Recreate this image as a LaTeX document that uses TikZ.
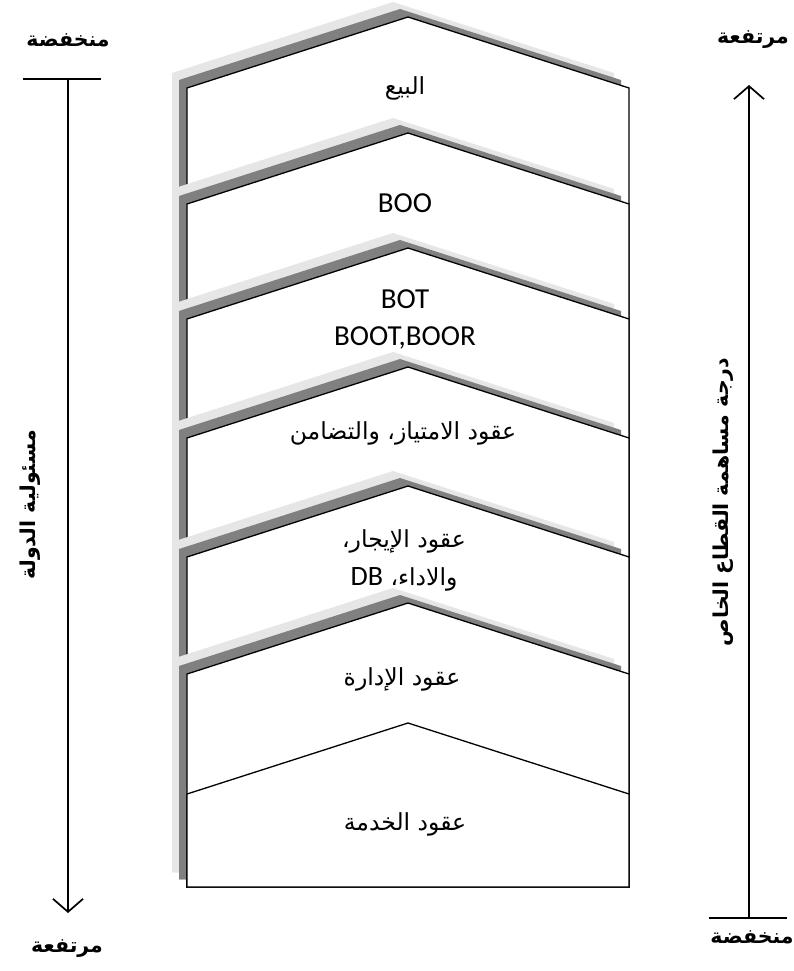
\documentclass[tikz,border=0pt]{standalone}
\usepackage{fontspec}
\setmainfont{Carlito}
\newfontfamily\arabicfont[Script=Arabic]{DejaVu Sans}
\TeXXeTstate=1
\usetikzlibrary{arrows.meta}

\definecolor{shadowdark}{HTML}{808080}
\definecolor{shadowlight}{HTML}{E6E6E6}

\begin{document}
\begin{tikzpicture}[x=1pt,y=-1pt,
  tier/.style={fill=white,draw=black,line width=1.3pt,line join=miter},
  tiertext/.style={font=\arabicfont\fontsize{23.5}{38}\selectfont,align=center,inner sep=0pt},
  latintext/.style={font=\fontsize{29}{37}\selectfont,align=center,inner sep=0pt},
  sidetext/.style={font=\arabicfont\bfseries\fontsize{20.5}{24}\selectfont,inner sep=0pt},
  axisline/.style={line width=1.7pt},
  axisarrow/.style={axisline,-{Straight Barb[length=13pt,width=30pt,line width=1.7pt]}}
]
\useasboundingbox (0,0) rectangle (794,971);

% stacked tiers, each with a two-tone drop shadow to the upper left
\foreach \a in {17,133,248,367,486,603} {
  \fill[shadowlight] (172,\a+56) -- (393,\a-15) -- (614,\a+56) -- (614,872) -- (172,872) -- cycle;
  \fill[shadowdark] (179,\a+63) -- (400,\a-8) -- (621,\a+63) -- (621,879) -- (179,879) -- cycle;
  \draw[tier] (187,\a+71) -- (408,\a) -- (629,\a+71) -- (629,887) -- (187,887) -- cycle;
}
% base tier without shadow
\draw[tier] (187,794) -- (408,723) -- (629,794) -- (629,887) -- (187,887) -- cycle;

% tier labels
\node[tiertext] (sale) at (405,88) {\beginR البيع\endR};
\node[latintext] (boo) at (405,203) {BOO};
\node[latintext] (bot) at (405,319) {BOT\\BOOT,BOOR};
\node[tiertext] (conc) at (403,433) {\beginR عقود الامتياز، والتضامن\endR};
\node[tiertext] (lease) at (404,560) {\beginR عقود الإيجار،\endR\\\beginR والاداء، {\fontspec{Carlito}\fontsize{28}{38}\selectfont\beginL DB\endL}\endR};
\node[tiertext] (mgmt) at (402,679) {\beginR عقود الإدارة\endR};
\node[tiertext] (serv) at (405,824) {\beginR عقود الخدمة\endR};

% left axis: state responsibility, low at top, high at bottom
\coordinate (ltop) at (68,79);
\coordinate (lbot) at (68,913);
\coordinate (lbarw) at (23,79);
\coordinate (lbare) at (101,79);
\draw[axisline] (lbarw) -- (lbare);
\draw[axisarrow] (ltop) -- (lbot);
\node[sidetext] (llow) at (68,40) {\beginR منخفضة\endR};
\node[sidetext] (lhigh) at (67,949) {\beginR مرتفعة\endR};
\node[sidetext,rotate=90] (ltitle) at (30,505) {\beginR مسئولية الدولة\endR};

% right axis: private sector share, low at bottom, high at top
\coordinate (rbot) at (749,918);
\coordinate (rtop) at (749,85);
\coordinate (rbarw) at (709,918);
\coordinate (rbare) at (787,918);
\draw[axisline] (rbarw) -- (rbare);
\draw[axisarrow] (rbot) -- (rtop);
\node[sidetext] (rhigh) at (753,40) {\beginR مرتفعة\endR};
\node[sidetext] (rlow) at (752,937) {\beginR منخفضة\endR};
\node[sidetext,rotate=90] (rtitle) at (723,502) {\beginR درجة مساهمة القطاع الخاص\endR};
\end{tikzpicture}
\end{document}
